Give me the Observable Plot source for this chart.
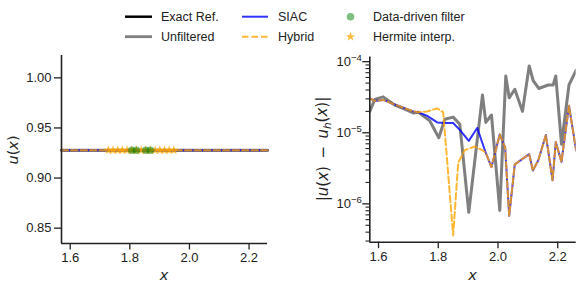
<!DOCTYPE html>
<html><head><meta charset="utf-8">
<script src="https://cdn.jsdelivr.net/npm/d3@7"></script>
<script src="https://cdn.jsdelivr.net/npm/@observablehq/plot@0.6"></script>
<style>
body{margin:0;background:#fff;}
#wrap{position:relative;width:581px;height:290px;overflow:hidden;}
#wrap svg{position:absolute;top:0;}
</style></head><body><div id="wrap"></div>
<script>
// ---------- data ----------
const xTicks = [1.6, 1.8, 2.0, 2.2];
const uTicks = [0.85, 0.90, 0.95, 1.00];
const errMajorTicks = [1e-6, 1e-5, 1e-4];
const errMinorTicks = [3e-7,4e-7,5e-7,6e-7,7e-7,8e-7,9e-7,
  2e-6,3e-6,4e-6,5e-6,6e-6,7e-6,8e-6,9e-6,
  2e-5,3e-5,4e-5,5e-5,6e-5,7e-5,8e-5,9e-5];
const xDomain = [1.5708, 2.2619];
const uDomain = [0.8347, 1.0223];
const errDomain = [2.89e-7, 1.164e-4];

// left panel: solution values
const uX = [1.5708, 2.2619];
const uExact = [0.9277, 0.9277];
const uUnfiltered = [0.9277, 0.9277];
const uSIAC = [0.9277, 0.9277];
const uHybrid = [0.9277, 0.9277];
const ddfX = [1.8064, 1.8221, 1.8535, 1.8692];
const ddfU = [0.9277, 0.9277, 0.9277, 0.9277];
const hermX = [1.7279, 1.7436, 1.7593, 1.7750, 1.7907, 1.8064, 1.8221, 1.8378, 1.8535, 1.8692, 1.8850, 1.9007, 1.9164, 1.9321, 1.9478];
const hermU = [0.9277, 0.9277, 0.9277, 0.9277, 0.9277, 0.9277, 0.9277, 0.9277, 0.9277, 0.9277, 0.9277, 0.9277, 0.9277, 0.9277, 0.9277];

// right panel: pointwise errors
const unfX = [1.5708, 1.5875, 1.6157, 1.6545, 1.6826, 1.7161, 1.7328, 1.7717, 1.8018, 1.8219, 1.8500, 1.8721, 1.9022, 1.9481, 1.9592, 1.9782, 2.0060, 2.0261, 2.0375, 2.0563, 2.0820, 2.1045, 2.1179, 2.1366, 2.1681, 2.1848, 2.1935, 2.2126, 2.2377, 2.2619];
const unfErr = [2.0e-5, 2.95e-5, 3.2e-5, 2.45e-5, 2.2e-5, 1.9e-5, 1.95e-5, 1.47e-5, 8.5e-6, 1.55e-5, 1.66e-5, 1.32e-5, 7.6e-7, 3.4e-5, 1.4e-5, 1.78e-5, 8.1e-7, 6.3e-5, 3.1e-5, 4.1e-5, 2.0e-5, 8.7e-5, 5.4e-5, 4.2e-5, 4.7e-5, 4.7e-5, 6.3e-5, 6.9e-6, 4.7e-5, 7.6e-5];

const siacX = [1.5708, 1.5875, 1.6157, 1.6545, 1.6826, 1.7161, 1.7328, 1.7630, 1.7965, 1.8219, 1.8500, 1.8721, 1.9022, 1.9304, 1.9592, 1.9782, 2.0060, 2.0240, 2.0375, 2.0563, 2.1045, 2.1168, 2.1349, 2.1603, 2.1828, 2.1935, 2.2126, 2.2377, 2.2619];
const siacErr = [3.05e-5, 2.8e-5, 2.9e-5, 2.5e-5, 2.25e-5, 2.0e-5, 1.95e-5, 1.73e-5, 1.4e-5, 1.37e-5, 1.37e-5, 1.1e-5, 7.7e-6, 1.17e-5, 5.2e-6, 3.3e-6, 9.5e-6, 6.2e-6, 6.8e-7, 3.6e-6, 5.0e-6, 2.95e-6, 4.1e-6, 9.3e-6, 2.15e-6, 7.4e-6, 3.9e-6, 2.4e-5, 5.6e-6];

const hybX = [1.5708, 1.5875, 1.6157, 1.6545, 1.6826, 1.7161, 1.7328, 1.7630, 1.7965, 1.8165, 1.8500, 1.8668, 1.8889, 1.9223, 1.9505, 1.9592, 1.9782, 2.0060, 2.0240, 2.0375, 2.0563, 2.1045, 2.1168, 2.1349, 2.1603, 2.1828, 2.1935, 2.2126, 2.2377, 2.2619];
const hybErr = [3.05e-5, 2.8e-5, 2.9e-5, 2.5e-5, 2.25e-5, 2.0e-5, 1.95e-5, 2.0e-5, 2.2e-5, 1.95e-5, 3.6e-7, 3.8e-6, 5.7e-6, 6.4e-6, 5.6e-6, 5.2e-6, 3.3e-6, 9.5e-6, 6.2e-6, 6.8e-7, 3.6e-6, 5.0e-6, 2.95e-6, 4.1e-6, 9.3e-6, 2.15e-6, 7.4e-6, 3.9e-6, 2.4e-5, 5.6e-6];

// ---------- styles ----------
const FONT = '"Liberation Sans", Arial, Helvetica, sans-serif';
const MATH = '"DejaVu Sans", sans-serif';
const INK = "#222";
const GREY = "#7f7f7f";
const baseStyle = {fontFamily: FONT, fontSize: "13px", color: INK, background: "transparent", overflow: "visible"};

const wrap = d3.select("#wrap");

// ---------- left panel ----------
const left = Plot.plot({
  width: 290, height: 290,
  marginLeft: 61, marginRight: 23, marginTop: 55, marginBottom: 47,
  style: baseStyle,
  x: {domain: xDomain, label: null},
  y: {domain: uDomain, label: null},
  marks: [
    Plot.axisX({ticks: xTicks, tickFormat: d3.format(".1f"), tickSize: 6.5, tickPadding: 3, strokeWidth: 1.3, label: null}),
    Plot.axisY({ticks: uTicks, tickFormat: d3.format(".2f"), tickSize: 7, tickPadding: 3, strokeWidth: 1.3, label: null}),
    Plot.line(uExact, {x: uX, y: uExact, stroke: "#000", strokeWidth: 2.5}),
    Plot.line(uUnfiltered, {x: uX, y: uUnfiltered, stroke: GREY, strokeWidth: 3.2}),
    Plot.line(uSIAC, {x: uX, y: uSIAC, stroke: "blue", strokeOpacity: 0.8, strokeWidth: 2}),
    Plot.line(uHybrid, {x: uX, y: uHybrid, stroke: "orange", strokeOpacity: 0.8, strokeWidth: 2, strokeDasharray: "6.5,3"}),
    Plot.dot(hermU, {x: hermX, y: hermU, symbol: "star", r: 3, fill: "orange", fillOpacity: 0.75, stroke: null}),
    Plot.dot(ddfU, {x: ddfX, y: ddfU, r: 3.8, fill: "green", fillOpacity: 0.5, stroke: null}),
    Plot.ruleX([xDomain[0]], {stroke: INK, strokeWidth: 1.6}),
    Plot.ruleY([uDomain[0]], {stroke: INK, strokeWidth: 1.6})
  ]
});
left.style.left = "0px";
wrap.node().appendChild(left);

// ---------- right panel ----------
const right = Plot.plot({
  width: 291, height: 290,
  marginLeft: 79.3, marginRight: 5.3, marginTop: 56.5, marginBottom: 48.3,
  style: baseStyle,
  x: {domain: xDomain, label: null},
  y: {type: "log", domain: errDomain, label: null},
  marks: [
    Plot.axisX({ticks: xTicks, tickFormat: d3.format(".1f"), tickSize: 6.5, tickPadding: 3, strokeWidth: 1.3, label: null}),
    Plot.axisY({ticks: errMinorTicks, tickFormat: () => "", tickSize: 3.8, strokeWidth: 1.1, label: null}),
    Plot.axisY({ticks: errMajorTicks, tickFormat: d => "10^" + Math.round(Math.log10(d)), tickSize: 7, tickPadding: 1, strokeWidth: 1.3, label: null}),
    Plot.line(unfErr, {x: unfX, y: unfErr, stroke: GREY, strokeWidth: 3, clip: true}),
    Plot.line(siacErr, {x: siacX, y: siacErr, stroke: "blue", strokeOpacity: 0.8, strokeWidth: 2, clip: true}),
    Plot.line(hybErr, {x: hybX, y: hybErr, stroke: "orange", strokeOpacity: 0.8, strokeWidth: 2, strokeDasharray: "6.5,3", clip: true}),
    Plot.ruleX([xDomain[0]], {stroke: INK, strokeWidth: 1.6}),
    Plot.ruleY([errDomain[0]], {stroke: INK, strokeWidth: 1.6})
  ]
});
right.style.left = "290px";
wrap.node().appendChild(right);

// superscript exponents for log tick labels
d3.select(right).selectAll("text").each(function() {
  const t = this.textContent;
  const m = /^10\^(-?\d+)$/.exec(t);
  if (!m) return;
  const el = d3.select(this);
  el.text("");
  el.append("tspan").text("10");
  el.append("tspan").attr("dy", "-0.5em").attr("font-size", "9.5px").text(m[1].replace("-", "\u2212"));
});

// axis labels
function xLabel(svg, cx) {
  d3.select(svg).append("text").attr("x", cx).attr("y", 275).attr("dy", "0.35em")
    .attr("text-anchor", "middle").attr("font-family", MATH).attr("font-size", "14.5px")
    .attr("font-style", "italic").attr("fill", INK).text("x");
}
xLabel(left, 164);
xLabel(right, 472.5 - 290);

const yl = d3.select(left).append("text")
  .attr("transform", "translate(13,150) rotate(-90)").attr("dy", "0.35em")
  .attr("text-anchor", "middle").attr("font-family", MATH).attr("font-size", "14.5px").attr("fill", INK);
yl.append("tspan").attr("font-style", "italic").text("u");
yl.append("tspan").text("(");
yl.append("tspan").attr("font-style", "italic").text("x");
yl.append("tspan").text(")");

const yr = d3.select(right).append("text")
  .attr("transform", `translate(${323 - 290},149) rotate(-90)`).attr("dy", "0.35em")
  .attr("text-anchor", "middle").attr("font-family", MATH).attr("font-size", "15px").attr("fill", INK);
yr.append("tspan").text("|");
yr.append("tspan").attr("font-style", "italic").text("u");
yr.append("tspan").text("(");
yr.append("tspan").attr("font-style", "italic").text("x");
yr.append("tspan").text(")\u2002\u2212\u2002");
yr.append("tspan").attr("font-style", "italic").text("u");
yr.append("tspan").attr("font-style", "italic").attr("font-size", "10.5px").attr("dy", "0.3em").text("h");
yr.append("tspan").attr("dy", "-0.3em").text("(");
yr.append("tspan").attr("font-style", "italic").text("x");
yr.append("tspan").text(")|");

// ---------- legend ----------
const legendItems = [
  {label: "Exact Ref.", kind: "line", stroke: "#000", width: 2.5, col: 0, row: 0},
  {label: "Unfiltered", kind: "line", stroke: GREY, width: 2.8, col: 0, row: 1},
  {label: "SIAC", kind: "line", stroke: "blue", opacity: 0.8, width: 2, col: 1, row: 0},
  {label: "Hybrid", kind: "dash", stroke: "orange", opacity: 0.8, width: 2, col: 1, row: 1},
  {label: "Data-driven filter", kind: "circle", fill: "green", opacity: 0.5, col: 2, row: 0},
  {label: "Hermite interp.", kind: "star", fill: "orange", opacity: 0.75, col: 2, row: 1}
];
const colHandle = [[125, 152], [242, 268], [343, 358]];
const colText = [161, 278, 373];
const rowY = [16.7, 36.7];
const leg = wrap.append("svg").attr("width", 581).attr("height", 50).style("left", "0px");
for (const it of legendItems) {
  const y = rowY[it.row];
  const [x0, x1] = colHandle[it.col];
  if (it.kind === "line" || it.kind === "dash") {
    leg.append("line").attr("x1", x0).attr("x2", x1).attr("y1", y).attr("y2", y)
      .attr("stroke", it.stroke).attr("stroke-width", it.width).attr("stroke-opacity", it.opacity ?? 1)
      .attr("stroke-dasharray", it.kind === "dash" ? "6.5,3" : null);
  } else if (it.kind === "circle") {
    leg.append("circle").attr("cx", (x0 + x1) / 2).attr("cy", y).attr("r", 3.8)
      .attr("fill", it.fill).attr("fill-opacity", it.opacity);
  } else {
    leg.append("path").attr("d", d3.symbol(d3.symbolStar, 3 * 3 * Math.PI)())
      .attr("transform", `translate(${(x0 + x1) / 2},${y})`)
      .attr("fill", it.fill).attr("fill-opacity", it.opacity);
  }
  leg.append("text").attr("x", colText[it.col]).attr("y", y).attr("dy", "0.35em")
    .attr("font-family", FONT).attr("font-size", "12.5px").attr("fill", INK).text(it.label);
}
</script>
</body></html>
